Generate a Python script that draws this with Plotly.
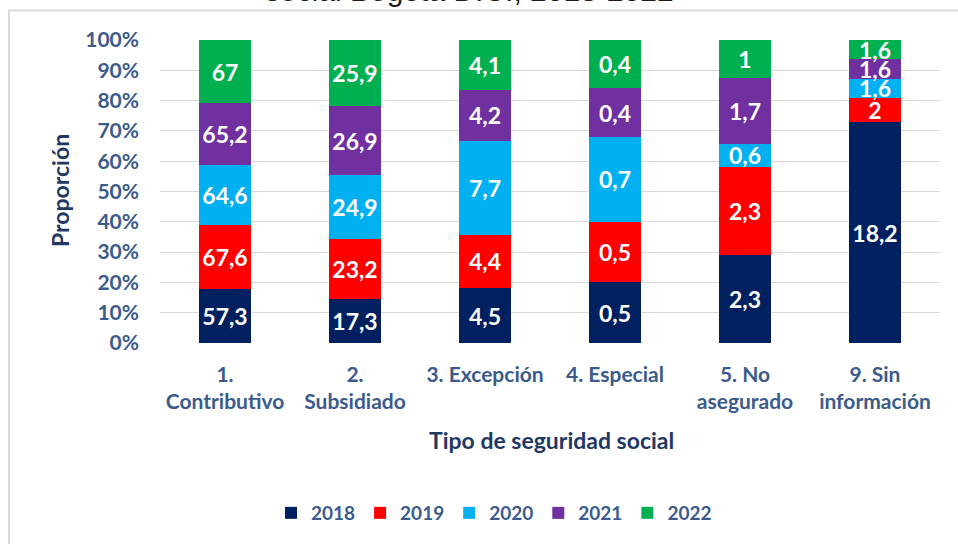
import plotly.graph_objects as go

categories = ["1.<br>Contributivo", "2.<br>Subsidiado", "3. Excepción", "4. Especial",
              "5. No<br>asegurado", "9. Sin<br>información"]
years = ["2018", "2019", "2020", "2021", "2022"]
v2018 = [57.3, 17.3, 4.5, 0.5, 2.3, 18.2]
v2019 = [67.6, 23.2, 4.4, 0.5, 2.3, 2]
v2020 = [64.6, 24.9, 7.7, 0.7, 0.6, 1.6]
v2021 = [65.2, 26.9, 4.2, 0.4, 1.7, 1.6]
v2022 = [67, 25.9, 4.1, 0.4, 1, 1.6]
series = [v2018, v2019, v2020, v2021, v2022]
colors = ["#002060", "#FF0000", "#00B0F0", "#7030A0", "#00B050"]
yticks = [0, 10, 20, 30, 40, 50, 60, 70, 80, 90, 100]
yticklabels = [f"{t}%" for t in yticks]

FONT = "Lato"
TICK = "#3B5B8C"
NAVY = "#1F3864"

fig = go.Figure()
for name, vals, col in zip(years, series, colors):
    fig.add_trace(go.Bar(
        x=categories, y=vals, name=name, marker=dict(color=col, line=dict(width=0)),
        text=[f"{v:g}".replace(".", ",") for v in vals],
        textposition="inside", insidetextanchor="middle", textangle=0,
        textfont=dict(family=FONT, size=23, color="white", weight="bold"),
        cliponaxis=False,
    ))

W, H = 958, 544
L, R, T, B = 160, 18, 40, 201
pw, ph = W - L - R, H - T - B


def px(x):
    return (x - L) / pw


def py(y):
    return (H - B - y) / ph


fig.update_layout(
    width=W, height=H, barmode="stack", barnorm="percent", bargap=0.6,
    margin=dict(l=L, r=R, t=T, b=B, autoexpand=False),
    paper_bgcolor="white", plot_bgcolor="white",
    uniformtext=dict(minsize=23, mode="show"),
    showlegend=True,
    legend=dict(orientation="h", x=px(494), y=py(513), xanchor="center", yanchor="middle",
                font=dict(family=FONT, size=19, color=TICK, weight="bold"),
                itemwidth=30, traceorder="normal"),
    xaxis=dict(showgrid=False, showline=False, ticks="", ticklabelstandoff=17,
               tickfont=dict(family=FONT, size=21, color=TICK, weight="bold")),
    yaxis=dict(range=[0, 100], tickmode="array", tickvals=yticks, ticktext=yticklabels,
               showgrid=True, gridcolor="#D9D9D9", gridwidth=1.3, zeroline=False, showline=False,
               ticks="", ticklabelstandoff=20,
               tickfont=dict(family=FONT, size=21, color=TICK, weight="bold")),
    annotations=[
        dict(text="social Bogotá D.C., 2018-2022", xref="paper", yref="paper",
             x=px(469), y=py(9), xanchor="center", yanchor="bottom", showarrow=False,
             font=dict(family="Liberation Sans", size=30, color="#1a1a1a")),
        dict(text="Proporción", xref="paper", yref="paper", x=px(60), y=py(191),
             xanchor="center", yanchor="middle", textangle=-90, showarrow=False,
             font=dict(family=FONT, size=23, color=NAVY, weight="bold")),
        dict(text="Tipo de seguridad social", xref="paper", yref="paper", x=px(551), y=py(440),
             xanchor="center", yanchor="middle", showarrow=False,
             font=dict(family=FONT, size=23, color=NAVY, weight="bold")),
    ],
    shapes=[
        dict(type="rect", xref="paper", yref="paper", x0=px(9), x1=px(1100), y0=py(700), y1=py(10.5),
             line=dict(color="#D9D9D9", width=2), fillcolor="rgba(0,0,0,0)", layer="below"),
    ],
)

fig.write_html("out.html", config={"displayModeBar": False},
               post_script="document.body.style.margin='0px';")
